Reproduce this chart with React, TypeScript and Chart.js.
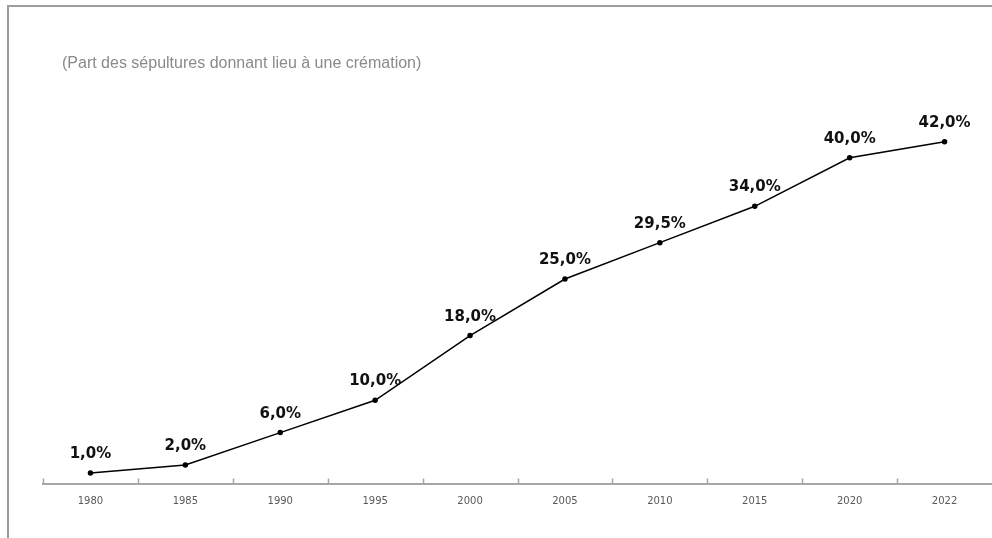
import React, { useEffect, useRef } from "react";
import { Chart, registerables } from "chart.js";

Chart.register(...registerables);

const years = ["1980", "1985", "1990", "1995", "2000", "2005", "2010", "2015", "2020", "2022"];
const cremationShare = [1.0, 2.0, 6.0, 10.0, 18.0, 25.0, 29.5, 34.0, 40.0, 42.0];
const subtitle = "(Part des sépultures donnant lieu à une crémation)";

const fmt = (v: number) => v.toFixed(1).replace(".", ",") + "%";

const labelPlugin = {
  id: "pointLabels",
  afterDatasetsDraw(chart: any) {
    const ctx = chart.ctx;
    const meta = chart.getDatasetMeta(0);
    ctx.save();
    ctx.font = "bold 15px 'DejaVu Sans'";
    ctx.fillStyle = "#111111";
    ctx.textAlign = "center";
    ctx.textBaseline = "alphabetic";
    meta.data.forEach((pt: any, i: number) => {
      ctx.fillText(fmt(cremationShare[i]), pt.x, pt.y - 15);
    });
    ctx.restore();
  },
};

const tickPlugin = {
  id: "innerTicks",
  afterDraw(chart: any) {
    const ctx = chart.ctx;
    const xs = chart.scales.x;
    const bottom = chart.chartArea.bottom;
    const step = xs.getPixelForValue(1) - xs.getPixelForValue(0);
    ctx.save();
    ctx.strokeStyle = "#a6a6a6";
    ctx.lineWidth = 1.5;
    for (let i = 0; i < years.length; i++) {
      const x = Math.round(xs.getPixelForValue(i) - step / 2) + 0.5;
      ctx.beginPath();
      ctx.moveTo(x, bottom - 5);
      ctx.lineTo(x, bottom);
      ctx.stroke();
    }
    ctx.restore();
  },
};

export default function App() {
  const ref = useRef<HTMLCanvasElement | null>(null);
  useEffect(() => {
    if (!ref.current) return;
    const chart = new Chart(ref.current, {
      type: "line",
      data: {
        labels: years,
        datasets: [
          {
            data: cremationShare,
            borderColor: "#000000",
            backgroundColor: "#000000",
            borderWidth: 1.5,
            pointRadius: 2,
            pointHoverRadius: 2,
            tension: 0,
            fill: false,
          },
        ],
      },
      options: {
        animation: false,
        responsive: false,
        maintainAspectRatio: false,
        layout: { autoPadding: false, padding: { left: 43, right: 0, top: 77, bottom: 18.5 } },
        plugins: { legend: { display: false }, tooltip: { enabled: false }, title: { display: false } },
        scales: {
          x: {
            offset: true,
            grid: { display: false, drawTicks: false },
            border: { display: true, color: "#a6a6a6", width: 2 },
            ticks: {
              color: "#595959",
              font: { family: "'DejaVu Sans'", size: 10 },
              padding: 12,
              maxRotation: 0,
              autoSkip: false,
            },
          },
          y: {
            display: false,
            min: -0.3,
            max: 50,
          },
        },
      },
      plugins: [labelPlugin, tickPlugin],
    });
    return () => chart.destroy();
  }, []);

  return (
    <div style={{ position: "fixed", left: 0, top: 0, width: 992, height: 538, overflow: "hidden", background: "#ffffff" }}>
      <div
        style={{
          position: "absolute",
          left: 7,
          top: 5,
          width: 2000,
          height: 2000,
          border: "2px solid #9c9c9c",
          boxSizing: "border-box",
        }}
      />
      <canvas ref={ref} width={992} height={538} style={{ position: "absolute", left: 0, top: 0 }} />
      <div
        style={{
          position: "absolute",
          left: 62,
          top: 54,
          font: "16px 'Liberation Sans', Arial, sans-serif",
          lineHeight: "18px",
          color: "#8a8a8a",
          whiteSpace: "nowrap",
        }}
      >
        {subtitle}
      </div>
    </div>
  );
}
